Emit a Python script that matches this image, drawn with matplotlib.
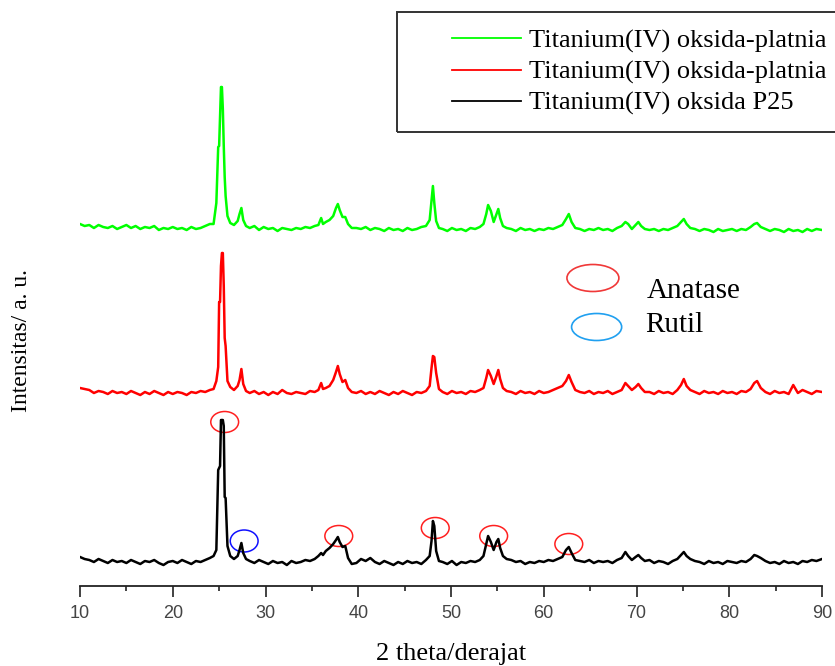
import matplotlib
matplotlib.use("Agg")
import matplotlib.pyplot as plt
from matplotlib.patches import Ellipse, Rectangle
from matplotlib.lines import Line2D

# -----------------------------
# Data (intensity in arbitrary units, traces offset vertically)
# -----------------------------
two_theta = [
    10, 10.5, 11, 11.5, 12, 12.5, 13, 13.5, 14, 14.5, 15, 15.5, 16, 16.5, 17, 17.5, 18, 18.5, 19, 19.5, 20, 20.5, 21, 21.5, 22, 22.5, 23, 23.5, 24,
    24.4, 24.7, 24.9, 25.0, 25.1, 25.2, 25.3, 25.4, 25.5, 25.6, 25.7, 25.9, 26.2, 26.6,
    27.0, 27.2, 27.4, 27.6, 27.9,
    28.3, 28.8, 29.3, 29.8, 30.3, 30.8, 31.3, 31.8, 32.3, 32.8, 33.3, 33.8, 34.3, 34.8, 35.3,
    35.7, 36.0, 36.2, 36.5, 36.9, 37.3, 37.6, 37.8, 38.0, 38.3, 38.6, 38.9, 39.3,
    39.8, 40.3, 40.8, 41.3, 41.8, 42.3, 42.8, 43.3, 43.8, 44.3, 44.8, 45.3, 45.8, 46.3, 46.8, 47.3,
    47.7, 47.9, 48.05, 48.2, 48.4, 48.7,
    49.1, 49.6, 50.1, 50.6, 51.1, 51.6, 52.1, 52.6, 53.1,
    53.5, 53.8, 54.0, 54.3, 54.6, 54.9, 55.1, 55.3, 55.6, 56.0,
    56.5, 57.0, 57.5, 58.0, 58.5, 59.0, 59.5, 60.0, 60.5, 61.0, 61.5, 62.0,
    62.4, 62.7, 63.0, 63.4,
    63.9, 64.4, 64.9, 65.4, 65.9, 66.4, 66.9, 67.4, 67.9, 68.4,
    68.8, 69.1, 69.5, 69.9, 70.2, 70.5, 70.9,
    71.4, 71.9, 72.4, 72.9, 73.4, 73.9, 74.4,
    74.8, 75.1, 75.4, 75.8,
    76.3, 76.8, 77.3, 77.8, 78.3, 78.8, 79.3, 79.8, 80.3, 80.8, 81.3, 81.8, 82.3,
    82.7, 83.0, 83.4,
    83.9, 84.4, 84.9, 85.4, 85.9, 86.4, 86.9, 87.4, 87.9, 88.4, 88.9, 89.4, 90.0,
]

p25 = [
    29, 27, 26, 24, 27, 25, 23, 26, 24, 25, 23, 26, 24, 22, 25, 24, 26, 23, 21, 24, 25, 23, 26, 24, 22, 25, 24, 26, 28,
    30, 36, 116, 118, 120, 166, 166, 166, 160, 89, 88, 40, 30, 27,
    30, 36, 43, 33, 27,
    25, 23, 26, 24, 22, 25, 23, 24, 21, 25, 23, 24, 26, 25, 27,
    30, 33, 31, 35, 38, 42, 46, 49, 44, 39, 40, 28, 22,
    23, 27, 25, 28, 24, 22, 25, 23, 21, 24, 22, 25, 23, 24, 22, 26,
    30, 45, 65, 60, 35, 25,
    24, 22, 25, 21, 24, 23, 25, 24, 26,
    30, 42, 50, 44, 36, 44, 47, 38, 30, 27,
    26, 24, 25, 22, 24, 23, 25, 24, 26, 25, 27, 29,
    36, 39, 33, 26,
    25, 24, 26, 23, 25, 24, 25, 23, 26, 28,
    34, 30, 26, 29, 31, 28, 25,
    26, 23, 25, 24, 22, 25, 27,
    31, 34, 30, 27,
    25, 24, 22, 25, 23, 24, 22, 25, 24, 23, 25, 24, 27,
    31, 30, 28,
    25, 23, 24, 22, 25, 23, 24, 22, 25, 24, 26, 25, 27,
]

platnia_red = [
    198, 197, 196, 193, 195, 194, 192, 195, 193, 194, 192, 195, 193, 191, 194, 192, 195, 193, 191, 194, 192, 194, 193, 191, 194, 193, 195, 194, 196,
    197, 205, 219, 284, 284, 320, 333, 333, 300, 248, 240, 205, 199, 196,
    200, 206, 217, 202, 195,
    193, 195, 192, 194, 191, 194, 192, 196, 193, 192, 194, 193, 192, 195, 194,
    196, 203, 197, 198, 200, 206, 214, 220, 212, 204, 206, 198, 194,
    193, 195, 192, 194, 192, 195, 193, 191, 194, 192, 195, 193, 191, 194, 193, 195,
    200, 218, 230, 229, 213, 197,
    194, 192, 195, 193, 194, 192, 195, 194, 196,
    198, 208, 216, 210, 202, 210, 216, 207, 198, 195,
    194, 192, 195, 193, 194, 192, 195, 193, 194, 196, 198, 200,
    205, 211, 204, 196,
    194, 193, 195, 192, 194, 193, 195, 192, 194, 196,
    203, 200, 196, 199, 202, 198, 194,
    194, 192, 195, 193, 194, 192, 196,
    201, 207, 200, 196,
    194, 192, 195, 193, 194, 192, 195, 193, 194, 192, 195, 194, 197,
    203, 205, 198,
    194, 192, 195, 193, 194, 192, 201, 193, 196, 194, 192, 195, 194,
]

platnia_green = [
    362, 360, 361, 358, 361, 359, 358, 360, 357, 359, 361, 358, 360, 357, 359, 358, 360, 356, 358, 357, 359, 357, 358, 356, 359, 357, 358, 360, 362,
    362, 383, 439, 440, 470, 499, 499, 477, 440, 409, 390, 370, 363, 361,
    365, 372, 378, 366, 360,
    358, 360, 356, 359, 357, 358, 355, 358, 357, 356, 358, 357, 359, 358, 360,
    361, 368, 362, 364, 366, 370, 378, 382, 376, 369, 369, 362, 358,
    358, 357, 359, 356, 358, 357, 355, 358, 356, 357, 355, 358, 356, 357, 359, 360,
    366, 385, 400, 383, 365, 358,
    357, 355, 358, 356, 357, 355, 358, 357, 359,
    362, 372, 381, 375, 364, 372, 377, 368, 360, 358,
    357, 355, 358, 356, 357, 355, 357, 356, 358, 357, 359, 361,
    367, 372, 364, 358,
    357, 355, 357, 356, 358, 356, 357, 355, 358, 360,
    364, 362, 357, 361, 364, 360, 357,
    356, 357, 355, 357, 356, 358, 360,
    364, 367, 362, 358,
    357, 355, 357, 356, 354, 357, 355, 356, 357, 355, 357, 356, 359,
    362, 363, 359,
    357, 355, 357, 356, 354, 357, 355, 356, 354, 357, 355, 357, 356,
]

labels = ["Titanium(IV) oksida-platnia", "Titanium(IV) oksida-platnia", "Titanium(IV) oksida P25"]

# peak markers on the P25 trace
anatase_x = [25.6, 37.9, 48.3, 54.6, 62.7]
anatase_y = [164, 50, 58, 50, 42]
rutil_x = [27.7]
rutil_y = [45]

assert len(two_theta) == len(p25) == len(platnia_red) == len(platnia_green)

# -----------------------------
# Figure
# -----------------------------
SERIF = ["Liberation Serif", "DejaVu Serif"]
SANS = ["Liberation Sans", "DejaVu Sans"]
LW = 1.8

fig = plt.figure(figsize=(8.35, 6.66), dpi=100)
ax = fig.add_axes([80 / 835, 80 / 666, 742 / 835, 576 / 666])

ax.plot(two_theta, platnia_green, color="#00ff00", lw=LW)
ax.plot(two_theta, platnia_red, color="#ff0000", lw=LW)
ax.plot(two_theta, p25, color="black", lw=LW)

for x, y in zip(anatase_x, anatase_y):
    ax.add_patch(Ellipse((x, y), 3.0, 21, fill=False, ec="#ff2020", lw=1.1))
for x, y in zip(rutil_x, rutil_y):
    ax.add_patch(Ellipse((x, y), 3.0, 22, fill=False, ec="#1010ff", lw=1.1))

# phase key
ax.add_patch(Ellipse((65.3, 308), 5.6, 27, fill=False, ec="#f03838", lw=1.2))
ax.add_patch(Ellipse((65.7, 259), 5.4, 27, fill=False, ec="#20a0f0", lw=1.2))
ax.text(71.1, 295, "Anatase", fontsize=21, family=SERIF, va="center", ha="left")
ax.text(70.9, 261, "Rutil", fontsize=21, family=SERIF, va="center", ha="left")

ax.set_xlim(10, 90)
ax.set_ylim(0, 576)
ax.set_xticks(range(10, 91, 10))
ax.set_xticks(range(15, 90, 10), minor=True)
ax.set_yticks([])
for s in ["left", "right", "top"]:
    ax.spines[s].set_visible(False)
ax.spines["bottom"].set_linewidth(1.3)
ax.spines["bottom"].set_color("#222222")
ax.tick_params(axis="x", which="major", length=8, width=1.2, direction="out",
               pad=6, labelsize=13, labelcolor="#444444", color="#222222")
ax.tick_params(axis="x", which="minor", length=3.5, width=1.2, direction="out", color="#222222")
for lab in ax.get_xticklabels():
    lab.set_family(SANS)

ax.set_xlabel("2 theta/derajat", fontsize=19, family=SERIF, labelpad=15)
fig.text(22 / 835, 1 - 341 / 666, "Intensitas/ a. u.", rotation=90, fontsize=17,
         family=SERIF, ha="center", va="center")

# legend box, running off the right edge
fig.add_artist(Rectangle((397 / 835, 1 - 132 / 666), 0.6, 120 / 666,
                         transform=fig.transFigure, fill=False, ec="#333333", lw=1.4))
handles = [Line2D([], [], color=c, lw=1.3) for c in ["#00ff00", "#ff0000", "black"]]
ax.legend(handles, labels, loc="upper left", bbox_to_anchor=(452 / 835, 1 - 29 / 666),
          bbox_transform=fig.transFigure, frameon=False, prop={"family": SERIF, "size": 19},
          handlelength=2.6, handletextpad=0.3, labelspacing=0.28, borderpad=0, borderaxespad=0)

fig.savefig("out.png", dpi=100)
